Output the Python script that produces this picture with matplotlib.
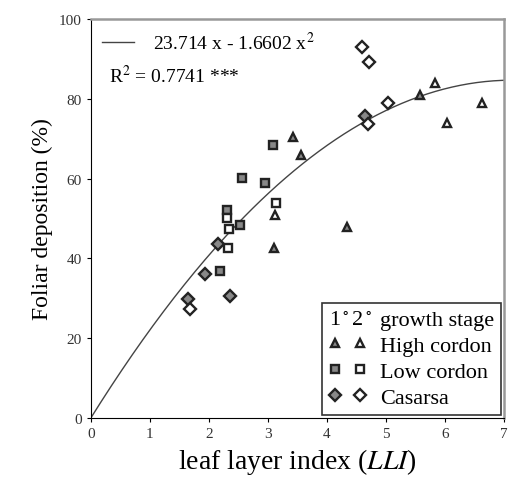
import numpy as np
import matplotlib
matplotlib.use("Agg")
import matplotlib.pyplot as plt
from matplotlib.legend_handler import HandlerTuple, HandlerBase
from matplotlib.text import Text

plt.rcParams["font.family"] = ["Liberation Serif", "DejaVu Serif"]
plt.rcParams["mathtext.fontset"] = "stix"

# High cordon (triangles)
high_x1 = [3.42, 3.56, 3.10, 4.34, 5.58]
high_y1 = [70.5, 66.0, 42.5, 48.0, 81.0]
high_x2 = [3.12, 5.83, 6.03, 6.63]
high_y2 = [51.0, 84.0, 74.0, 79.0]

# Low cordon (squares)
low_x1 = [3.08, 2.56, 2.95, 2.30, 2.53, 2.19]
low_y1 = [68.5, 60.2, 59.0, 52.2, 48.5, 36.8]
low_x2 = [2.30, 2.34, 2.33, 3.14]
low_y2 = [50.2, 47.5, 42.5, 54.0]

# Casarsa (diamonds)
cas_x1 = [1.65, 1.93, 2.36, 2.15, 4.64]
cas_y1 = [29.8, 36.0, 30.5, 43.5, 75.7]
cas_x2 = [1.68, 4.59, 4.71, 5.03, 4.70]
cas_y2 = [27.3, 93.0, 89.3, 79.0, 73.8]

# fitted curve coefficients
a, b = 23.714, -1.6602


class TitleHandle:
    def __init__(self, text):
        self.text = text


class TextHandler(HandlerBase):
    """Draws a short text in place of the legend marker."""
    def create_artists(self, legend, orig_handle, xdescent, ydescent,
                       width, height, fontsize, trans):
        t = Text(x=-xdescent, y=-ydescent, text=orig_handle.text,
                 fontsize=fontsize, ha="left", va="baseline", transform=trans,
                 family=["Liberation Serif", "DejaVu Serif"])
        return [t]


fig = plt.figure(figsize=(5.10, 4.89), dpi=100)
ax = fig.add_axes([0.178, 0.143, 0.81, 0.816])

xx = np.linspace(0, 7, 200)
fit_line, = ax.plot(xx, a * xx + b * xx ** 2, color="#444444", lw=1.0)

mk = dict(markersize=6, markeredgewidth=1.7, markeredgecolor="#222222", linestyle="none")
fill1 = "#888888"
h1, = ax.plot(high_x1, high_y1, marker="^", markerfacecolor=fill1, **mk)
h2, = ax.plot(high_x2, high_y2, marker="^", markerfacecolor="white", **mk)
l1, = ax.plot(low_x1, low_y1, marker="s", markerfacecolor=fill1, **mk)
l2, = ax.plot(low_x2, low_y2, marker="s", markerfacecolor="white", **mk)
c1, = ax.plot(cas_x1, cas_y1, marker="D", markerfacecolor=fill1, **mk)
c2, = ax.plot(cas_x2, cas_y2, marker="D", markerfacecolor="white", **mk)

ax.set_xlim(0, 7)
ax.set_ylim(0, 100)
ax.set_xticks(range(0, 8))
ax.set_yticks(range(0, 101, 20))
ax.tick_params(direction="out", length=3, labelsize=11, labelcolor="#333333")
ax.set_xlabel("leaf layer index ($\\mathit{LLI}$)", fontsize=20, labelpad=4)
ax.set_ylabel("Foliar deposition (%)", fontsize=17, labelpad=4)
for s in ["top", "right"]:
    ax.spines[s].set_color("#999999")
    ax.spines[s].set_linewidth(1.8)

# equation legend
eq = ax.legend([fit_line], ["23.714 x - 1.6602 x$^2$"], loc="upper left",
               frameon=False, fontsize=14, handlelength=1.6, handletextpad=1.0,
               borderaxespad=0.2)
ax.add_artist(eq)
ax.text(0.045, 0.86, "R$^2$ = 0.7741 ***", transform=ax.transAxes, fontsize=14,
        ha="left", va="center")

leg = ax.legend([TitleHandle("1$^\\circ$2$^\\circ$"), (h1, h2), (l1, l2), (c1, c2)],
                ["growth stage", "High cordon", "Low cordon", "Casarsa"],
                handler_map={tuple: HandlerTuple(ndivide=None, pad=0.5),
                             TitleHandle: TextHandler()},
                loc="lower right", fontsize=16, handlelength=1.7,
                handletextpad=0.6, labelspacing=0.25, borderpad=0.3,
                borderaxespad=0.15, fancybox=False, edgecolor="#333333",
                framealpha=1)
leg.get_frame().set_linewidth(1.2)

fig.savefig("out.png", dpi=100)
